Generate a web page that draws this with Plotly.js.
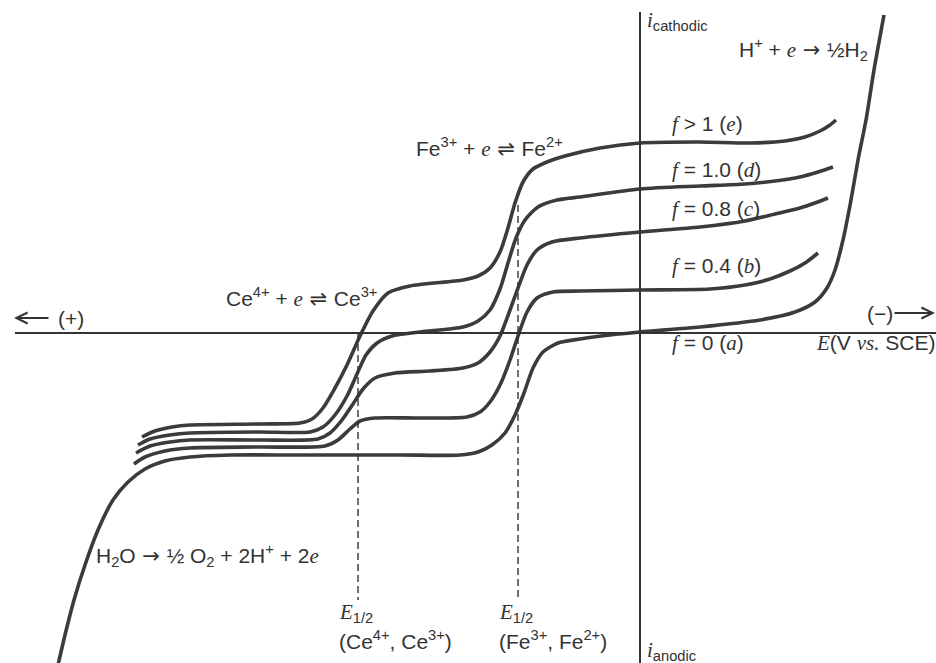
<!DOCTYPE html>
<html>
<head>
<meta charset="utf-8">
<script src="https://cdn.plot.ly/plotly-3.0.1.min.js"></script>
<style>
  html, body { margin: 0; padding: 0; background: #ffffff; }
  #chart { width: 936px; height: 663px; }
</style>
</head>
<body>
<div id="chart"></div>
<script>
// Sketched current–potential curves (arbitrary units): E grows negative to the right,
// i > 0 cathodic (up), i < 0 anodic (down).

// f = 0 (a): background oxidation of water, Fe2+ oxidation wave, then H2 evolution
const E_a = [-5.82, -5.75, -5.66, -5.55, -5.42, -5.27, -5.12, -4.95, -4.75, -4.50, -4.10, -3.40, -2.40, -1.80, -1.62, -1.48, -1.35, -1.25, -1.16, -1.07, -0.97, -0.82, -0.60, -0.30, 0.00, 0.60, 1.20, 1.55, 1.75, 1.87, 1.95, 2.03, 2.11, 2.18, 2.26, 2.34, 2.44];
const i_a = [-3.32, -3.02, -2.67, -2.32, -1.97, -1.67, -1.49, -1.36, -1.28, -1.24, -1.22, -1.22, -1.22, -1.22, -1.19, -1.12, -1.00, -0.82, -0.60, -0.35, -0.19, -0.10, -0.06, -0.02, 0.01, 0.06, 0.13, 0.21, 0.31, 0.45, 0.63, 0.93, 1.33, 1.73, 2.13, 2.63, 3.18];

// f = 0.4 (b)
const E_b = [-5.06, -4.95, -4.75, -4.50, -3.80, -3.15, -3.02, -2.90, -2.80, -2.65, -2.20, -1.73, -1.60, -1.50, -1.40, -1.30, -1.22, -1.13, -1.03, -0.87, -0.60, 0.00, 0.70, 1.05, 1.30, 1.50, 1.65, 1.78];
const i_b = [-1.31, -1.24, -1.18, -1.15, -1.14, -1.13, -1.07, -0.96, -0.88, -0.85, -0.85, -0.84, -0.79, -0.69, -0.52, -0.27, -0.03, 0.21, 0.35, 0.41, 0.42, 0.43, 0.44, 0.48, 0.54, 0.62, 0.70, 0.80];

// f = 0.8 (c)
const E_c = [-5.04, -4.90, -4.70, -4.50, -3.80, -3.22, -3.10, -2.98, -2.87, -2.77, -2.65, -2.45, -2.10, -1.77, -1.62, -1.50, -1.40, -1.30, -1.22, -1.13, -1.03, -0.88, -0.60, 0.00, 0.60, 1.05, 1.35, 1.60, 1.75, 1.88];
const i_c = [-1.20, -1.13, -1.09, -1.07, -1.07, -1.06, -1.00, -0.87, -0.71, -0.56, -0.45, -0.40, -0.38, -0.35, -0.30, -0.19, -0.03, 0.23, 0.45, 0.68, 0.83, 0.91, 0.95, 1.01, 1.06, 1.12, 1.19, 1.25, 1.30, 1.35];

// f = 1.0 (d)
const E_d = [-5.02, -4.90, -4.70, -4.50, -3.80, -3.30, -3.17, -3.05, -2.93, -2.83, -2.74, -2.63, -2.48, -2.20, -1.77, -1.62, -1.50, -1.40, -1.32, -1.24, -1.15, -1.02, -0.83, -0.60, 0.00, 0.60, 1.05, 1.35, 1.60, 1.78, 1.93];
const i_d = [-1.12, -1.06, -1.02, -1.00, -0.99, -0.99, -0.94, -0.82, -0.63, -0.41, -0.22, -0.10, -0.03, 0.01, 0.06, 0.12, 0.23, 0.44, 0.70, 0.95, 1.13, 1.26, 1.33, 1.36, 1.44, 1.47, 1.49, 1.52, 1.56, 1.61, 1.66];

// f > 1 (e)
const E_e = [-4.98, -4.85, -4.68, -4.50, -3.80, -3.40, -3.28, -3.17, -3.05, -2.93, -2.80, -2.67, -2.52, -2.30, -1.77, -1.62, -1.50, -1.40, -1.32, -1.25, -1.17, -1.07, -0.93, -0.75, -0.40, 0.00, 0.60, 1.10, 1.45, 1.65, 1.80, 1.90, 1.96];
const i_e = [-1.04, -0.98, -0.94, -0.92, -0.91, -0.90, -0.86, -0.75, -0.55, -0.32, -0.03, 0.22, 0.40, 0.47, 0.53, 0.57, 0.65, 0.81, 1.05, 1.30, 1.51, 1.64, 1.71, 1.77, 1.85, 1.90, 1.91, 1.90, 1.92, 1.96, 2.02, 2.08, 2.13];

// Half-wave potentials
const E_half_Ce = -2.82;
const E_half_Fe = -1.22;

const curves = [
  [E_a, i_a], [E_b, i_b], [E_c, i_c], [E_d, i_d], [E_e, i_e]
];

const INK = '#3b3b3b';
const TXT = '#333333';

const traces = curves.map(([x, y]) => ({
  x: x, y: y,
  type: 'scatter', mode: 'lines',
  line: { color: INK, width: 3.6, shape: 'spline', smoothing: 0.7 },
  hoverinfo: 'skip', showlegend: false
}));

const SANS = 'Liberation Sans, Arial, sans-serif';
const it = s => `<span style="font-family:'Liberation Serif';font-style:italic">${s}</span>`;
const sym = s => `<span style="font-family:'DejaVu Sans'"> ${s} </span>`;
const ARROW = sym('\u2192');
const EQUIL = sym('\u21cc');

function label(x, y, text, extra) {
  return Object.assign({
    x: x, y: y, xref: 'x', yref: 'y', text: text, showarrow: false,
    xanchor: 'left', yanchor: 'middle',
    font: { family: SANS, size: 21, color: TXT }
  }, extra || {});
}

const annotations = [
  label(0.05, 3.12, it('i') + '<sub>cathodic</sub>'),
  label(0.05, -3.18, it('i') + '<sub>anodic</sub>'),
  label(0.97, 2.84, 'H<sup>+</sup> + ' + it('e') + ARROW + '\u00bdH<sub>2</sub>'),
  label(-2.26, 1.86, 'Fe<sup>3+</sup> + ' + it('e') + EQUIL + 'Fe<sup>2+</sup>'),
  label(-4.16, 0.36, 'Ce<sup>4+</sup> + ' + it('e') + EQUIL + 'Ce<sup>3+</sup>'),
  label(-5.46, -2.22, 'H<sub>2</sub>O' + ARROW + '\u00bd O<sub>2</sub> + 2H<sup>+</sup> + 2' + it('e')),
  label(0.30, 2.09, it('f') + ' > 1 (' + it('e') + ')'),
  label(0.30, 1.63, it('f') + ' = 1.0 (' + it('d') + ')'),
  label(0.30, 1.24, it('f') + ' = 0.8 (' + it('c') + ')'),
  label(0.30, 0.67, it('f') + ' = 0.4 (' + it('b') + ')'),
  label(0.30, -0.10, it('f') + ' = 0 (' + it('a') + ')'),
  label(1.74, -0.10, it('E') + '(V ' + it('vs.') + ' SCE)'),
  label(2.25, 0.20, '(\u2212)'),
  label(-5.84, 0.15, '(+)'),
  label(-3.03, -2.80, it('E') + '<sub>1/2</sub>'),
  label(-3.03, -3.07, '(Ce<sup>4+</sup>, Ce<sup>3+</sup>)'),
  label(-1.43, -2.80, it('E') + '<sub>1/2</sub>'),
  label(-1.43, -3.07, '(Fe<sup>3+</sup>, Fe<sup>2+</sup>)'),
  // direction arrows along the potential axis
  { x: 2.95, y: 0.20, ax: 2.53, ay: 0.20, xref: 'x', yref: 'y', axref: 'x', ayref: 'y',
    text: '', showarrow: true, arrowhead: 5, arrowsize: 1.1, arrowwidth: 2, arrowcolor: TXT },
  { x: -6.26, y: 0.15, ax: -5.90, ay: 0.15, xref: 'x', yref: 'y', axref: 'x', ayref: 'y',
    text: '', showarrow: true, arrowhead: 5, arrowsize: 1.1, arrowwidth: 2, arrowcolor: TXT }
];

const shapes = [
  // potential axis
  { type: 'line', xref: 'x', yref: 'y', x0: -6.25, x1: 2.96, y0: 0, y1: 0,
    line: { color: TXT, width: 2 } },
  // current axis
  { type: 'line', xref: 'x', yref: 'y', x0: 0, x1: 0, y0: -3.30, y1: 3.21,
    line: { color: TXT, width: 2 } },
  // half-wave potential markers
  { type: 'line', xref: 'x', yref: 'y', x0: E_half_Ce, x1: E_half_Ce, y0: 0, y1: -2.67,
    line: { color: TXT, width: 1.4, dash: '7px,4px' } },
  { type: 'line', xref: 'x', yref: 'y', x0: E_half_Fe, x1: E_half_Fe, y0: 1.28, y1: -2.65,
    line: { color: TXT, width: 1.4, dash: '7px,4px' } }
];

const layout = {
  width: 936, height: 663,
  margin: { l: 0, r: 0, t: 0, b: 0 },
  paper_bgcolor: '#ffffff', plot_bgcolor: '#ffffff',
  xaxis: { range: [-6.40, 2.96], visible: false, fixedrange: true },
  yaxis: { range: [-3.30, 3.33], visible: false, fixedrange: true },
  showlegend: false,
  annotations: annotations,
  shapes: shapes
};

Plotly.newPlot('chart', traces, layout, { staticPlot: true, displayModeBar: false });
</script>
</body>
</html>
